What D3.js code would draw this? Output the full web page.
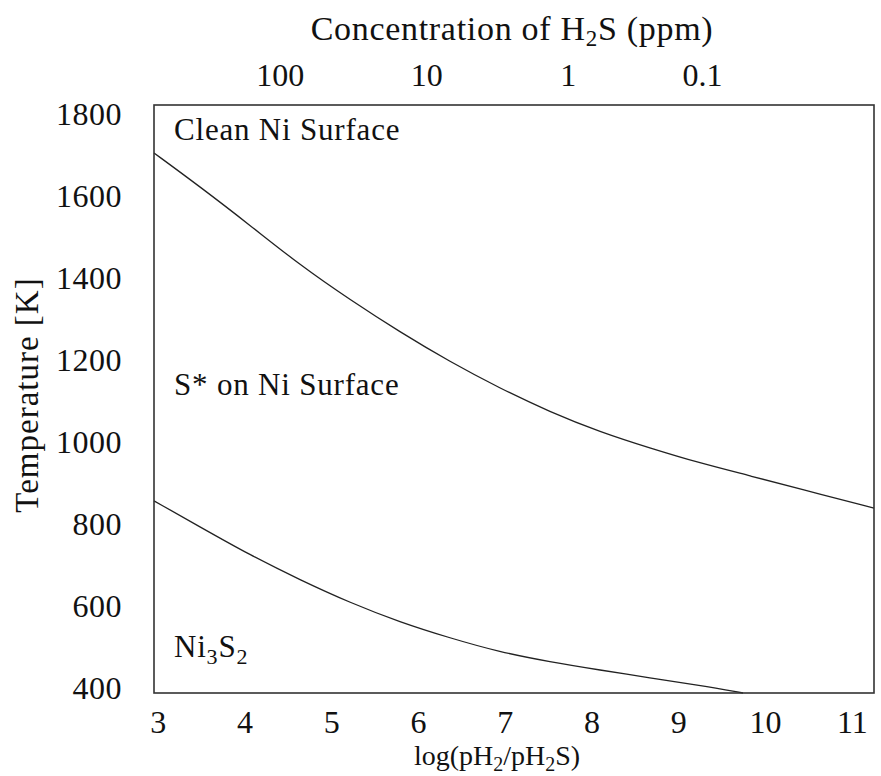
<!DOCTYPE html>
<html>
<head>
<meta charset="utf-8">
<script src="https://cdn.jsdelivr.net/npm/d3@7"></script>
<style>
  body { margin: 0; background: #fff; }
  svg text { font-family: "Liberation Serif", serif !important; fill: #111; }
</style>
</head>
<body>
<script>
// upper boundary: clean Ni surface / S* on Ni surface
var upperX = [2.956, 3.49, 4.06, 4.64, 5.22, 5.79, 6.37, 6.94, 7.52, 8.10, 8.67, 9.25, 9.83, 10.40, 11.256];
var upperT = [1703, 1620, 1527, 1429, 1344, 1266, 1193, 1129, 1071, 1022, 983, 946, 915, 883, 836];

// lower boundary: S* on Ni surface / Ni3S2
var lowerX = [2.956, 3.49, 4.06, 4.64, 5.22, 5.79, 6.37, 6.94, 7.52, 8.10, 8.67, 9.25, 9.746];
var lowerT = [854, 790, 722, 661, 605, 558, 519, 485, 461, 441, 422, 404, 385];

var xTicks = [3, 4, 5, 6, 7, 8, 9, 10, 11];
var yTicks = [400, 600, 800, 1000, 1200, 1400, 1600, 1800];

// top axis: H2S concentration labels and where they sit on the log ratio axis
var ppmLabels = ["100", "10", "1", "0.1"];
var ppmAt = [4.41, 6.10, 7.73, 9.28];

var margin = {top: 105, right: 7, bottom: 83, left: 154};
var W = 881, H = 776;
var w = W - margin.left - margin.right;
var h = H - margin.top - margin.bottom;

var x = d3.scaleLinear().domain([2.956, 11.256]).range([0, w]);
var y = d3.scaleLinear().domain([385, 1820]).range([h, 0]);

var svg = d3.select("body").append("svg")
    .attr("width", W)
    .attr("height", H)
    .attr("font-family", "Liberation Serif, serif");

var g = svg.append("g")
    .attr("transform", "translate(" + margin.left + "," + margin.top + ")");

var fs = 32;

// bottom axis
var xAxis = g.append("g")
    .attr("transform", "translate(0," + h + ")")
    .call(d3.axisBottom(x).tickValues(xTicks).tickSize(0).tickPadding(0).tickFormat(d3.format("d")));
xAxis.attr("font-family", null).attr("font-size", null);
xAxis.select(".domain").remove();
xAxis.selectAll("text")
    .attr("y", 29)
    .attr("dy", "0.35em")
    .style("font-size", fs + "px");

// left axis
var yAxis = g.append("g")
    .call(d3.axisLeft(y).tickValues(yTicks).tickSize(0).tickPadding(0).tickFormat(d3.format("d")));
yAxis.attr("font-family", null).attr("font-size", null);
yAxis.select(".domain").remove();
yAxis.selectAll("text")
    .attr("x", -32)
    .attr("dy", "0.35em")
    .style("font-size", fs + "px")
    .style("letter-spacing", "0.5px");

// top axis (ppm)
g.selectAll("text.ppm")
    .data(ppmLabels)
  .enter()
  .append("text")
    .attr("class", "ppm")
    .attr("x", function(d, i) { return x(ppmAt[i]); })
    .attr("y", -30)
    .attr("dy", "0.35em")
    .attr("text-anchor", "middle")
    .style("font-size", fs + "px")
    .text(function(d) { return d; });

// curves
var line = d3.line()
    .x(function(d) { return x(d[0]); })
    .y(function(d) { return y(d[1]); })
    .curve(d3.curveBasis);

g.append("path")
    .datum(upperX.map(function(v, i) { return [v, upperT[i]]; }))
    .attr("d", line)
    .attr("fill", "none")
    .attr("stroke", "#222")
    .attr("stroke-width", 1.3);

g.append("path")
    .datum(lowerX.map(function(v, i) { return [v, lowerT[i]]; }))
    .attr("d", line)
    .attr("fill", "none")
    .attr("stroke", "#222")
    .attr("stroke-width", 1.3);

// frame
g.append("rect")
    .attr("width", w)
    .attr("height", h)
    .attr("fill", "none")
    .attr("stroke", "#333")
    .attr("stroke-width", 1.6);

// region labels
var regions = g.append("g").style("font-size", "31px").style("letter-spacing", "0.8px");
regions.append("text").attr("x", 20).attr("y", 35).text("Clean Ni Surface");
regions.append("text").attr("x", 20).attr("y", 290).text("S* on Ni Surface");
var ni = regions.append("text").attr("x", 20).attr("y", 552);
ni.append("tspan").text("Ni");
ni.append("tspan").attr("dy", 7).style("font-size", "22px").text("3");
ni.append("tspan").attr("dy", -7).text("S");
ni.append("tspan").attr("dy", 7).style("font-size", "22px").text("2");

// axis titles
var xt = svg.append("text")
    .attr("x", 497)
    .attr("y", 765)
    .attr("text-anchor", "middle")
    .style("font-size", "28px");
xt.append("tspan").text("log(pH");
xt.append("tspan").attr("dy", 6).style("font-size", "20px").text("2");
xt.append("tspan").attr("dy", -6).text("/pH");
xt.append("tspan").attr("dy", 6).style("font-size", "20px").text("2");
xt.append("tspan").attr("dy", -6).text("S)");

var tt = svg.append("text")
    .attr("x", 512)
    .attr("y", 40)
    .attr("text-anchor", "middle")
    .style("font-size", "34px")
    .style("letter-spacing", "0.7px");
tt.append("tspan").text("Concentration of H");
tt.append("tspan").attr("dy", 6).style("font-size", "23px").text("2");
tt.append("tspan").attr("dy", -6).text("S (ppm)");

svg.append("text")
    .attr("transform", "translate(38,395) rotate(-90)")
    .attr("text-anchor", "middle")
    .style("font-size", "33px")
    .style("letter-spacing", "1px")
    .text("Temperature [K]");
</script>
</body>
</html>
